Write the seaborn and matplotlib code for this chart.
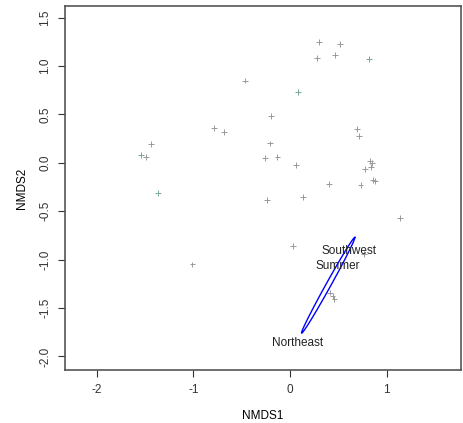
import numpy as np
import pandas as pd
import matplotlib
matplotlib.use('Agg')
import matplotlib.pyplot as plt
import seaborn as sns

# NMDS site scores
nmds1 = [0.30, 0.52, 0.28, 0.47, 0.82, -0.47, 0.08, -0.20, -0.79, -0.68,
         0.69, 0.71, -1.44, -1.54, -1.49, -0.21, -0.26, -0.13, 0.06, 0.83,
         0.85, 0.78, 0.84, 0.86, 0.88, 0.40, 0.73, -1.37, -0.24, 0.13,
         1.14, 0.03, -1.01, 0.77, 0.41, 0.44, 0.46]
nmds2 = [1.25, 1.23, 1.08, 1.11, 1.07, 0.85, 0.73, 0.48, 0.36, 0.32,
         0.35, 0.28, 0.19, 0.08, 0.06, 0.20, 0.05, 0.06, -0.02, 0.02,
         0.00, -0.06, -0.04, -0.18, -0.19, -0.22, -0.23, -0.31, -0.38, -0.35,
         -0.57, -0.86, -1.05, -0.94, -1.34, -1.38, -1.41]
group = ['a', 'a', 'a', 'a', 'b', 'a', 'b', 'a', 'a', 'a',
         'a', 'a', 'a', 'b', 'a', 'a', 'a', 'a', 'a', 'a',
         'a', 'a', 'a', 'a', 'a', 'a', 'a', 'b', 'a', 'a',
         'a', 'a', 'a', 'a', 'a', 'a', 'a']

# ordination ellipse: centre, semi-axes, angle (deg)
ell_center = (0.395, -1.265)
ell_axes = (0.566, 0.025)
ell_angle = 60.9

# text labels
lab_text = ['Southwest', 'Summer', 'Northeast']
lab_x = [0.61, 0.49, 0.08]
lab_y = [-0.91, -1.07, -1.86]

df = pd.DataFrame({'NMDS1': nmds1, 'NMDS2': nmds2, 'group': group})

plt.rcParams['font.family'] = ['Liberation Sans', 'DejaVu Sans']
plt.rcParams['axes.unicode_minus'] = False
fig = plt.figure(figsize=(4.63, 4.23), dpi=100)
ax = fig.add_axes([65 / 463, 53 / 423, 396 / 463, 364 / 423])

sns.scatterplot(data=df, x='NMDS1', y='NMDS2', hue='group', marker='+',
                palette={'a': '#999999', 'b': '#7aa898'}, s=18, linewidth=0.7,
                legend=False, ax=ax)

t = np.linspace(0, 2 * np.pi, 300)
th = np.deg2rad(ell_angle)
ex = ell_center[0] + ell_axes[0] * np.cos(t) * np.cos(th) - ell_axes[1] * np.sin(t) * np.sin(th)
ey = ell_center[1] + ell_axes[0] * np.cos(t) * np.sin(th) + ell_axes[1] * np.sin(t) * np.cos(th)
ax.plot(ex, ey, color='#0000ff', lw=1.0)

for s, x, y in zip(lab_text, lab_x, lab_y):
    ax.text(x, y, s, ha='center', va='center', fontsize=8.5, color='#222222')

ax.set_xlim(-2.33, 1.77)
ax.set_ylim(-2.14, 1.62)
ax.set_xticks([-2, -1, 0, 1])
ax.set_yticks([-2.0, -1.5, -1.0, -0.5, 0.0, 0.5, 1.0, 1.5])
ax.set_yticklabels(['-2.0', '-1.5', '-1.0', '-0.5', '0.0', '0.5', '1.0', '1.5'],
                   rotation=90, va='center')
ax.tick_params(direction='out', length=5, width=0.8, colors='#333333',
               labelsize=8.5, pad=5)
for sp in ax.spines.values():
    sp.set_color('#555555')
    sp.set_linewidth(1.2)
ax.set_xlabel('NMDS1', fontsize=8.5, labelpad=10)
ax.set_ylabel('NMDS2', fontsize=8.5, labelpad=8)

plt.savefig('out.png', dpi=100)
plt.close()
